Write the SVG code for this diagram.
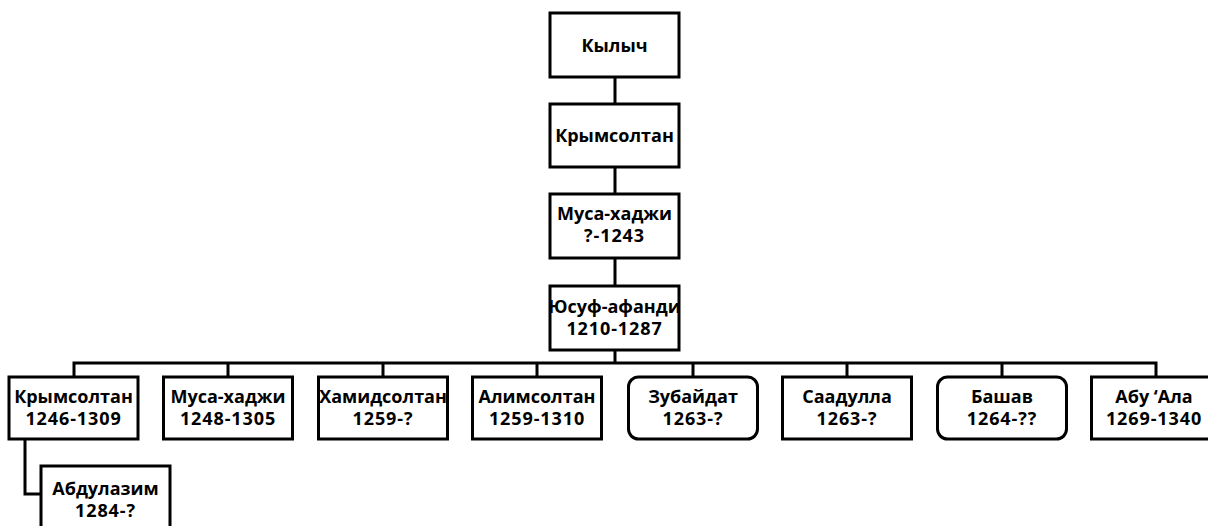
<svg xmlns="http://www.w3.org/2000/svg" width="1208" height="526" viewBox="0 0 1208 526">
<style>
.box{fill:#fff;stroke:#000;stroke-width:3}
.ln{fill:none;stroke:#000;stroke-width:3}
text{font-family:"Open Sans","Noto Sans","DejaVu Sans",sans-serif;font-weight:bold;font-size:18px;fill:#000;text-anchor:middle}
text.n{letter-spacing:0.9px}
</style>
<rect width="1208" height="526" fill="#fff"/>
<g id="connectors">
<path class="ln" d="M615 77V104M615 167V194M615 258V286"/>
<path class="ln" d="M615 350V363" stroke-width="4"/>
<path class="ln" d="M74 377V363H1156V377M228 363V377M383 363V377M537 363V377M693 363V377M847 363V377M1002 363V377"/>
<path class="ln" d="M25 439V494H41"/>
</g>
<g id="n-kylych"><rect class="box" x="550" y="13" width="129" height="64"/><text x="614.5" y="52">Кылыч</text></g>
<g id="n-krymsoltan1"><rect class="box" x="550" y="104" width="129" height="63"/><text x="614.5" y="142">Крымсолтан</text></g>
<g id="n-musa1"><rect class="box" x="550" y="194" width="129" height="64"/><text x="614.5" y="220">Муса-хаджи</text><text class="n" x="614.5" y="242">?-1243</text></g>
<g id="n-yusuf"><rect class="box" x="550" y="286" width="129" height="64"/><text x="614.5" y="313">Юсуф-афанди</text><text class="n" x="614.5" y="335">1210-1287</text></g>
<g id="n-krymsoltan2"><rect class="box" x="9" y="377" width="129" height="62"/><text x="73.5" y="403">Крымсолтан</text><text class="n" x="73.5" y="425">1246-1309</text></g>
<g id="n-musa2"><rect class="box" x="163.5" y="377" width="129" height="62"/><text x="228" y="403">Муса-хаджи</text><text class="n" x="228" y="425">1248-1305</text></g>
<g id="n-hamid"><rect class="box" x="318.5" y="377" width="129" height="62"/><text x="383" y="403">Хамидсолтан</text><text class="n" x="383" y="425">1259-?</text></g>
<g id="n-alim"><rect class="box" x="472.5" y="377" width="129" height="62"/><text x="537" y="403">Алимсолтан</text><text class="n" x="537" y="425">1259-1310</text></g>
<g id="n-zubaidat"><rect class="box" x="628.5" y="377" width="129" height="62" rx="10"/><text x="693" y="403">Зубайдат</text><text class="n" x="693" y="425">1263-?</text></g>
<g id="n-saadulla"><rect class="box" x="782.5" y="377" width="129" height="62"/><text x="847" y="403">Саадулла</text><text class="n" x="847" y="425">1263-?</text></g>
<g id="n-bashav"><rect class="box" x="937.5" y="377" width="129" height="62" rx="10"/><text x="1002" y="403">Башав</text><text class="n" x="1002" y="425">1264-??</text></g>
<g id="n-abuala"><rect class="box" x="1091.5" y="377" width="129" height="62"/><text x="1154" y="403">Абу ‘Ала</text><text class="n" x="1154" y="425">1269-1340</text></g>
<g id="n-abdulazim"><rect class="box" x="41" y="466" width="129" height="64"/><text x="105.5" y="495">Абдулазим</text><text class="n" x="105.5" y="517">1284-?</text></g>
</svg>
